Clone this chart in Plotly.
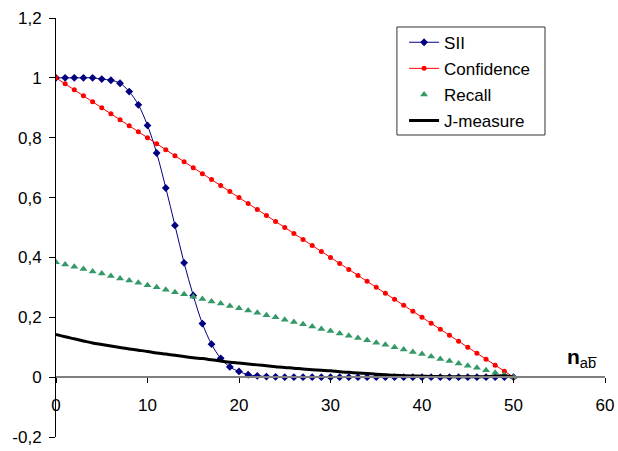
import plotly.graph_objects as go

x_vals = list(range(0, 51))

sii = [1.0, 1.0, 1.0, 1.0, 1.0, 0.996, 0.992, 0.982, 0.954, 0.91,
       0.841, 0.749, 0.632, 0.507, 0.382, 0.273, 0.179, 0.110, 0.063, 0.034,
       0.019, 0.008, 0.004, 0.002, 0.001, 0.0, 0.0, 0.0, 0.0, 0.0,
       0.0, 0.0, 0.0, 0.0, 0.0, 0.0, 0.0, 0.0, 0.0, 0.0,
       0.0, 0.0, 0.0, 0.0, 0.0, 0.0, 0.0, 0.0, 0.0, 0.0, 0.0]

confidence = [1.0, 0.98, 0.96, 0.94, 0.92, 0.90, 0.88, 0.86, 0.84, 0.82,
              0.80, 0.78, 0.76, 0.74, 0.72, 0.70, 0.68, 0.66, 0.64, 0.62,
              0.60, 0.58, 0.56, 0.54, 0.52, 0.50, 0.48, 0.46, 0.44, 0.42,
              0.40, 0.38, 0.36, 0.34, 0.32, 0.30, 0.28, 0.26, 0.24, 0.22,
              0.20, 0.18, 0.16, 0.14, 0.12, 0.10, 0.08, 0.06, 0.04, 0.02, 0.0]

recall = [0.384, 0.376, 0.369, 0.361, 0.353, 0.346, 0.338, 0.330, 0.323, 0.315,
          0.307, 0.300, 0.292, 0.284, 0.277, 0.269, 0.261, 0.253, 0.246, 0.238,
          0.230, 0.223, 0.215, 0.207, 0.200, 0.192, 0.184, 0.177, 0.169, 0.161,
          0.154, 0.146, 0.138, 0.131, 0.123, 0.115, 0.108, 0.100, 0.092, 0.084,
          0.077, 0.069, 0.061, 0.054, 0.046, 0.038, 0.031, 0.023, 0.015, 0.008, 0.0]

jmeasure = [0.143, 0.135, 0.128, 0.121, 0.114, 0.109, 0.104, 0.099, 0.094, 0.090,
            0.086, 0.081, 0.077, 0.073, 0.069, 0.065, 0.062, 0.058, 0.054, 0.050,
            0.047, 0.044, 0.041, 0.038, 0.035, 0.032, 0.030, 0.027, 0.025, 0.023,
            0.021, 0.018, 0.016, 0.014, 0.012, 0.010, 0.008, 0.006, 0.005, 0.004,
            0.003, 0.002, 0.002, 0.001, 0.001, 0.001, 0.001, 0.002, 0.003, 0.005, 0.0]

y_tickvals = [-0.2, 0, 0.2, 0.4, 0.6, 0.8, 1.0, 1.2]
y_ticktext = ["-0,2", "0", "0,2", "0,4", "0,6", "0,8", "1", "1,2"]
x_tickvals = [0, 10, 20, 30, 40, 50, 60]

FONT = "Liberation Sans, Arial, sans-serif"

fig = go.Figure()
fig.add_trace(go.Scatter(
    x=x_vals, y=sii, name="SII", mode="lines+markers",
    line=dict(color="#000080", width=1, shape="spline"),
    marker=dict(symbol="diamond", size=6, color="#000080"),
    legendgroup="a"))
fig.add_trace(go.Scatter(
    x=x_vals, y=confidence, name="Confidence", mode="lines+markers",
    line=dict(color="#FF0000", width=1),
    marker=dict(symbol="circle", size=5, color="#FF0000"),
    legendgroup="b"))
fig.add_trace(go.Scatter(
    x=x_vals, y=recall, name="Recall", mode="markers",
    marker=dict(symbol="triangle-up", size=7, color="#339966"),
    legendgroup="c"))
fig.add_trace(go.Scatter(
    x=x_vals, y=jmeasure, name="J-measure", mode="lines",
    line=dict(color="#000000", width=3, shape="spline"),
    legendgroup="d"))

fig.add_annotation(
    x=57.5, y=0.065, xref="x", yref="y", showarrow=False,
    text="<b>n</b><sub>ab\u0305</sub>",
    font=dict(family=FONT, size=21, color="#000000"),
    xanchor="center", yanchor="middle")

# legend frame
fig.add_shape(
    type="rect", xref="paper", yref="paper",
    x0=0.621, x1=0.8907, y0=0.7208, y1=0.9785,
    line=dict(color="#333333", width=1), fillcolor="white", layer="above")

fig.update_layout(
    width=618, height=451,
    margin=dict(l=56, r=13, t=18, b=14, autoexpand=False),
    paper_bgcolor="white", plot_bgcolor="white",
    font=dict(family=FONT, size=17, color="#000000"),
    showlegend=True,
    legend=dict(
        x=0.634, y=0.984, xanchor="left", yanchor="top",
        bgcolor="rgba(0,0,0,0)", borderwidth=0,
        font=dict(family=FONT, size=17, color="#000000"),
        traceorder="grouped", tracegroupgap=1,
    ),
    xaxis=dict(
        range=[0, 60], tickvals=x_tickvals,
        anchor="free", position=0.142857,
        showline=True, linecolor="#808080", linewidth=1.5,
        ticks="outside", ticklen=5, tickcolor="#000000",
        showgrid=False, zeroline=False, automargin=False,
        ticklabelstandoff=8,
        tickfont=dict(family=FONT, size=17),
    ),
    yaxis=dict(
        range=[-0.2, 1.2], tickvals=y_tickvals, ticktext=y_ticktext,
        showline=True, linecolor="#000000", linewidth=1,
        ticks="outside", ticklen=6, tickcolor="#000000",
        showgrid=False, zeroline=False, automargin=False,
        ticklabelstandoff=4,
        tickfont=dict(family=FONT, size=17),
    ),
)

fig.write_html("out.html", config={"displayModeBar": False},
               post_script="document.body.style.margin='0px';")
